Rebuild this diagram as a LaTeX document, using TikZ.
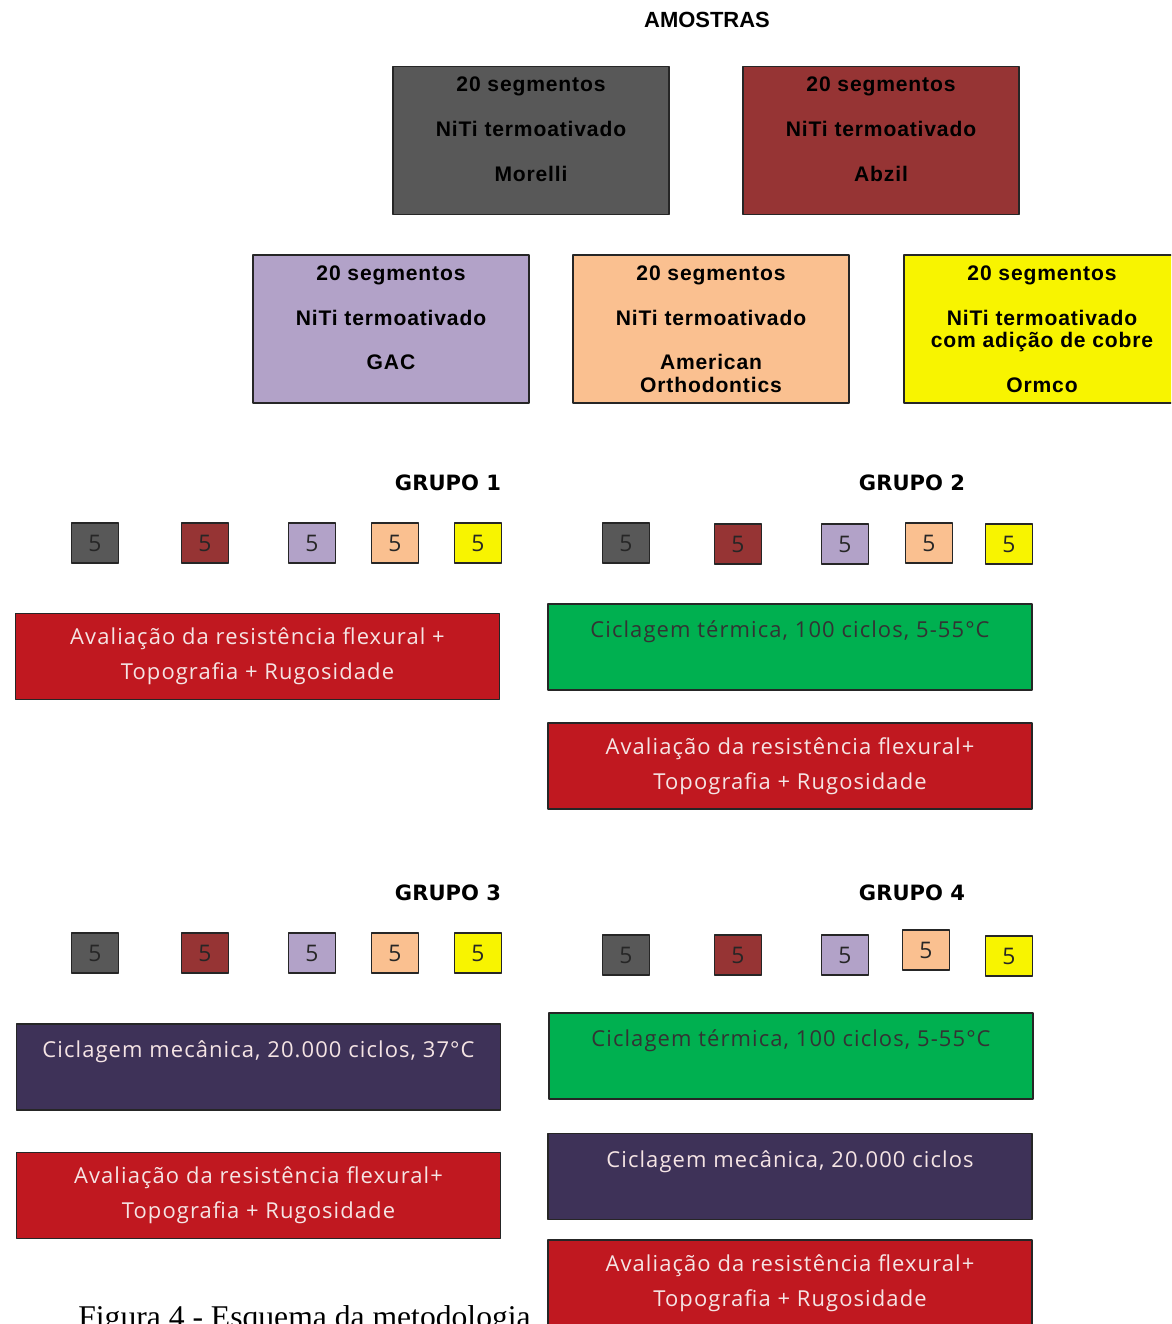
\documentclass[tikz,border=0pt]{standalone}
\usepackage{fontspec}
\setmainfont{Liberation Sans}
\newfontfamily\boxfont[LetterSpace=4]{Liberation Sans}
\newfontfamily\procfont[LetterSpace=5]{Open Sans}
\newfontfamily\grpfont{DejaVu Sans}
\newfontfamily\capfont{Liberation Serif}
\definecolor{smgray}{RGB}{88,88,88}
\definecolor{smred}{RGB}{150,52,52}
\definecolor{smlav}{RGB}{178,162,200}
\definecolor{smpeach}{RGB}{250,192,144}
\definecolor{smyellow}{RGB}{248,244,0}
\definecolor{prred}{RGB}{192,24,32}
\definecolor{prgreen}{RGB}{0,176,80}
\definecolor{prpurple}{RGB}{62,50,88}
\definecolor{prtext}{RGB}{245,228,228}
\begin{document}
\begin{tikzpicture}[x=0.02cm,y=-0.02cm,line join=round,
  sample/.style={draw=black!85,line width=0.9pt,minimum width=5.52cm,minimum height=2.96cm,
    align=center,inner sep=0pt,font=\boxfont\bfseries\fontsize{12}{12.76}\selectfont},
  proc/.style={draw=black!85,line width=0.9pt,minimum width=9.68cm,minimum height=1.72cm,
    align=center,inner sep=0pt,text=prtext,font=\procfont\fontsize{12.5}{19.84}\selectfont},
  sq/.style={draw=black!85,line width=0.8pt,minimum width=0.94cm,minimum height=0.8cm,
    inner sep=0pt,text=black!85,font=\procfont\fontsize{13}{14}\selectfont},
  grp/.style={font=\grpfont\bfseries\fontsize{12}{14}\selectfont}]
\useasboundingbox (0,0) rectangle (1171,1324);
\clip (0,0) rectangle (1171,1324);
% amostras
\node (amostras) at (707,20) {\bfseries\fontsize{12.5}{14}\selectfont AMOSTRAS};
\node (morelli) [sample,fill=smgray] at (531,140.5) {20 segmentos\\\strut\\NiTi termoativado\\\strut\\Morelli\\\mbox{}};
\node (abzil) [sample,fill=smred] at (881,140.5) {20 segmentos\\\strut\\NiTi termoativado\\\strut\\Abzil\\\mbox{}};
\node (gac) [sample,fill=smlav] at (391,329) {20 segmentos\\\strut\\NiTi termoativado\\\strut\\GAC\\\mbox{}};
\node (ao) [sample,fill=smpeach] at (711,329) {20 segmentos\\\strut\\NiTi termoativado\\\strut\\American\\Orthodontics};
\node (ormco) [sample,fill=smyellow] at (1042,329) {20 segmentos\\\strut\\NiTi termoativado\\com adição de cobre\\\strut\\Ormco};
% grupos
\node (grupo1) [grp] at (448,483) {GRUPO 1};
\node (grupo2) [grp] at (912,483) {GRUPO 2};
\node (grupo3) [grp] at (448,893) {GRUPO 3};
\node (grupo4) [grp] at (912,893) {GRUPO 4};
\foreach \g/\y in {1/543,3/953}
  \foreach \c/\x [count=\i] in {smgray/95,smred/205,smlav/312,smpeach/395,smyellow/478}
    \node (g\g-\i) [sq,fill=\c] at (\x,\y) {5};
\foreach \c/\x/\y [count=\i] in {smgray/626/543,smred/738/544,smlav/845/544,smpeach/929/543,smyellow/1009/544}
  \node (g2-\i) [sq,fill=\c] at (\x,\y) {5};
\foreach \c/\x/\y [count=\i] in {smgray/626/955,smred/738/955,smlav/845/955,smpeach/926/950,smyellow/1009/956}
  \node (g4-\i) [sq,fill=\c] at (\x,\y) {5};
% etapas
\node (aval1) [proc,fill=prred] at (257.5,656.5) {Avaliação da resistência flexural +\\Topografia + Rugosidade};
\node (term2) [proc,fill=prgreen,text=black!80] at (790,647) {Ciclagem térmica, 100 ciclos, 5-55°C\\\mbox{}};
\node (aval2) [proc,fill=prred] at (790,766) {Avaliação da resistência flexural+\\Topografia + Rugosidade};
\node (mec3) [proc,fill=prpurple] at (258.5,1067) {Ciclagem mecânica, 20.000 ciclos, 37°C\\\mbox{}};
\node (aval3) [proc,fill=prred] at (258.5,1195.5) {Avaliação da resistência flexural+\\Topografia + Rugosidade};
\node (term4) [proc,fill=prgreen,text=black!80] at (791,1056) {Ciclagem térmica, 100 ciclos, 5-55°C\\\mbox{}};
\node (mec4) [proc,fill=prpurple] at (790,1176.5) {Ciclagem mecânica, 20.000 ciclos\\\mbox{}};
\node (aval4) [proc,fill=prred] at (790,1283) {Avaliação da resistência flexural+\\Topografia + Rugosidade};
% legenda
\node (legenda) [anchor=base west,inner sep=0pt,font=\capfont\fontsize{18}{20}\selectfont] at (78,1327) {Figura 4 - Esquema da metodologia};
\end{tikzpicture}
\end{document}
